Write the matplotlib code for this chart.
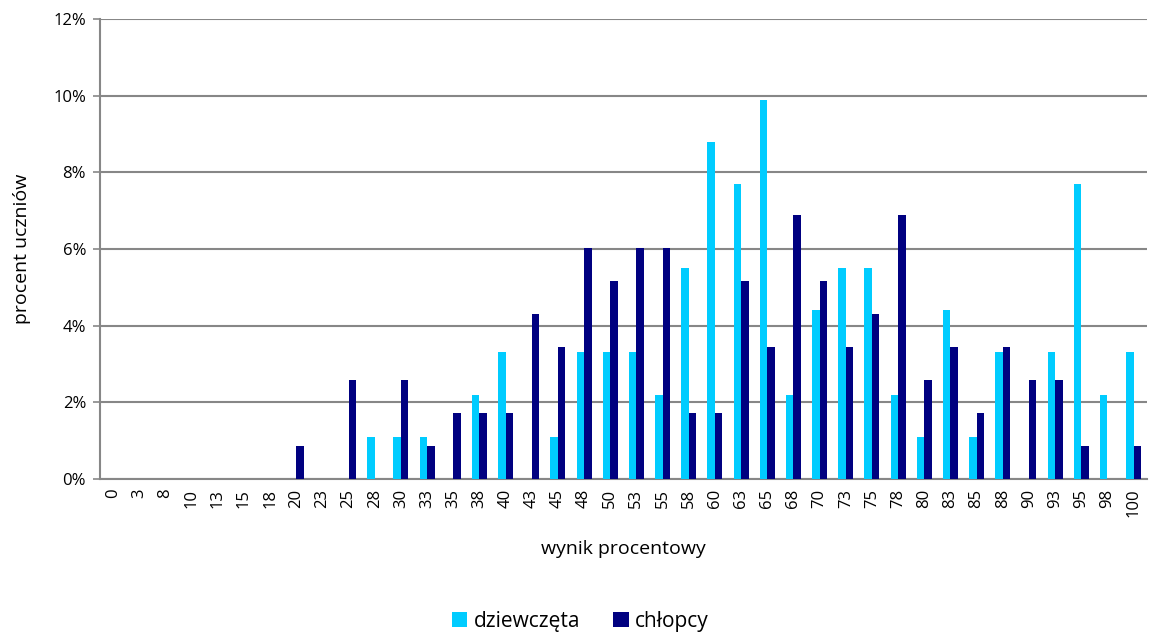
import numpy as np
import matplotlib
matplotlib.use("Agg")
import matplotlib.pyplot as plt
from matplotlib.ticker import FuncFormatter

plt.rcParams['font.family'] = ['Open Sans', 'DejaVu Sans']

wyniki = ["0", "3", "8", "10", "13", "15", "18", "20", "23", "25", "28", "30", "33", "35",
          "38", "40", "43", "45", "48", "50", "53", "55", "58", "60", "63", "65", "68", "70",
          "73", "75", "78", "80", "83", "85", "88", "90", "93", "95", "98", "100"]

dziewczeta = [0, 0, 0, 0, 0, 0, 0, 0, 0, 0, 1.1, 1.1, 1.1, 0,
              2.2, 3.3, 0, 1.1, 3.3, 3.3, 3.3, 2.2, 5.5, 8.8, 7.7, 9.9, 2.2, 4.4,
              5.5, 5.5, 2.2, 1.1, 4.4, 1.1, 3.3, 0, 3.3, 7.7, 2.2, 3.3]

chlopcy = [0, 0, 0, 0, 0, 0, 0, 0.86, 0, 2.59, 0, 2.59, 0.86, 1.72,
           1.72, 1.72, 4.31, 3.45, 6.03, 5.17, 6.03, 6.03, 1.72, 1.72, 5.17, 3.45, 6.9, 5.17,
           3.45, 4.31, 6.9, 2.59, 3.45, 1.72, 3.45, 2.59, 2.59, 0.86, 0, 0.86]

fig = plt.figure(figsize=(11.49, 6.35), dpi=100)
ax = fig.add_axes([0.087, 0.2457, 0.911, 0.7243])

x = np.arange(len(wyniki))
w = 1 / 3.5
ax.bar(x - w / 2, dziewczeta, w, color="#00CCFF", label="dziewczęta", zorder=3)
ax.bar(x + w / 2, chlopcy, w, color="#000080", label="chłopcy", zorder=3)

ax.set_xlim(-0.5, len(wyniki) - 0.5)
ax.set_ylim(0, 12)
ax.set_yticks(np.arange(0, 13, 2))
ax.yaxis.set_major_formatter(FuncFormatter(lambda v, p: f"{v:.0f}%"))
ax.yaxis.grid(True, color="#878787", linewidth=1.5, zorder=0)

ax.set_xticks(x)
ax.set_xticklabels(wyniki, rotation=90)
ax.tick_params(axis="x", length=0, labelsize=12, pad=7)
ax.tick_params(axis="y", length=5, width=1.2, color="#878787", labelsize=12, pad=5)

for s in ["top", "right"]:
    ax.spines[s].set_visible(False)
for s in ["left", "bottom"]:
    ax.spines[s].set_color("#878787")
    ax.spines[s].set_linewidth(1.5)

ax.set_ylabel("procent uczniów", fontsize=14, labelpad=16)
ax.set_xlabel("wynik procentowy", fontsize=14, labelpad=16)

fig.legend(loc="center", bbox_to_anchor=(0.505, 0.022), ncol=2, frameon=False,
           fontsize=15, handlelength=0.75, handleheight=0.75, columnspacing=1.6, handletextpad=0.3)

fig.savefig("out.png", dpi=100)
